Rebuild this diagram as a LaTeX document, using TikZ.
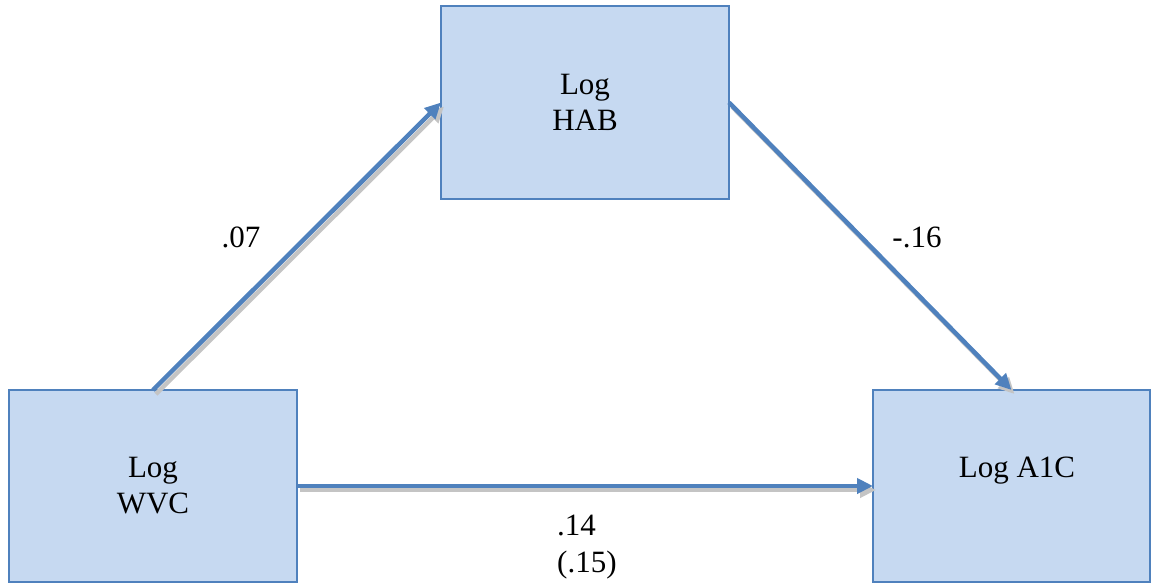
\documentclass[tikz,border=0pt]{standalone}
\usepackage{fontspec}
\setmainfont{Liberation Serif}
\usetikzlibrary{arrows.meta}
\definecolor{boxfill}{HTML}{C6D9F1}
\definecolor{boxline}{HTML}{4F81BD}
\definecolor{shade}{HTML}{C4C4C4}
\tikzset{
  varbox/.style={rectangle, draw=boxline, fill=boxfill, line width=2pt, inner sep=0pt, outer sep=0pt},
  lbl/.style={font=\fontsize{31}{36}\selectfont, inner sep=0pt, text=black},
  conn/.style={draw=boxline, line width=4.5pt, -{Triangle[length=16pt,width=15pt]}},
  connshadow/.style={draw=shade, line width=4.5pt, -{Triangle[length=16pt,width=15pt]}, transform canvas={shift={(3pt,-4pt)}}}
}
\begin{document}
\begin{tikzpicture}[x=1pt,y=-1pt]
\useasboundingbox (0,0) rectangle (1152,584);
\node[varbox, minimum width=288pt, minimum height=193pt] (hab) at (585,102.5) {};
\node[varbox, minimum width=288pt, minimum height=192pt] (wvc) at (153,486) {};
\node[varbox, minimum width=277pt, minimum height=192pt] (a1c) at (1011.5,486) {};
\node[lbl, align=center] (habtxt) at (585,102) {Log\\HAB};
\node[lbl, align=center] (wvctxt) at (153,486) {Log\\WVC};
\node[lbl, anchor=base] (a1ctxt) at (1017,477) {Log A1C};
% shadows
\draw[connshadow] (wvc.north) -- (hab.west);
\draw[connshadow] (hab.east) -- (a1c.north);
\draw[connshadow] (wvc.east) -- (a1c.west);
% connectors
\draw[conn] (wvc.north) -- (hab.west);
\draw[conn] (hab.east) -- (a1c.north);
\draw[conn] (wvc.east) -- (a1c.west);
% labels
\node[lbl, anchor=base] (la) at (241,247) {.07};
\node[lbl, anchor=base] (lb) at (917,247) {-.16};
\node[lbl, anchor=base west] (lc1) at (557,535) {.14};
\node[lbl, anchor=base west] (lc2) at (557,572) {(.15)};
\end{tikzpicture}
\end{document}
